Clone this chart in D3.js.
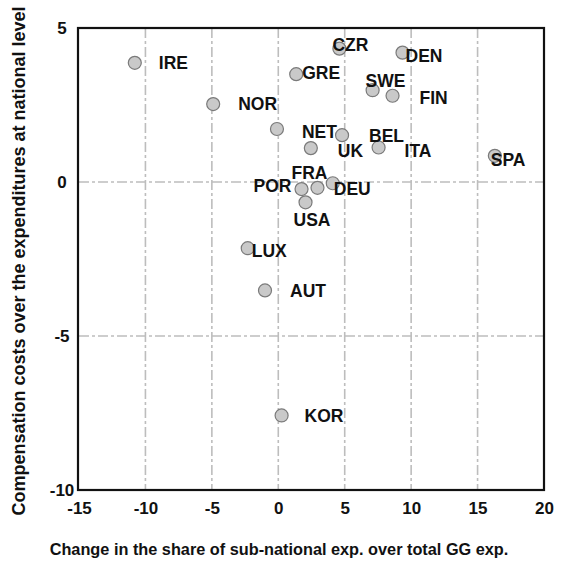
<!DOCTYPE html>
<html>
<head>
<meta charset="utf-8">
<script src="https://cdn.jsdelivr.net/npm/d3@7"></script>
<style>
  body { margin: 0; background: white; }
  text { font-family: "Liberation Sans", Arial, sans-serif; font-weight: bold; fill: #111; }
</style>
</head>
<body>
<script>
// country codes and values
const countries = ["IRE", "NOR", "NET", "GRE", "CZR", "DEN", "SWE", "FIN", "BEL", "UK",
                   "ITA", "SPA", "POR", "FRA", "DEU", "USA", "LUX", "AUT", "KOR"]
const shareChange = [-10.8, -4.9, -0.1, 1.35, 4.6, 9.35, 7.1, 8.6, 4.8, 2.45,
                     7.55, 16.3, 1.75, 2.95, 4.1, 2.05, -2.3, -1.0, 0.25]
const compCosts = [3.87, 2.53, 1.72, 3.5, 4.33, 4.2, 2.98, 2.8, 1.52, 1.1,
                   1.12, 0.85, -0.23, -0.19, -0.04, -0.66, -2.15, -3.52, -7.58]
const xTicks = [-15, -10, -5, 0, 5, 10, 15, 20]
const yTicks = [5, 0, -5, -10]
const xGrid = [-10, -5, 0, 5, 10, 15]
const yGrid = [0, -5]

// where each label sits relative to its dot (px)
const labelOffset = {
  IRE: [24, 0], NOR: [25, 0], NET: [25, 3], GRE: [6, -1], CZR: [-7, -4],
  DEN: [3, 3], SWE: [-7, -9], FIN: [27, 2], BEL: [27, 1], UK: [27, 3],
  ITA: [26, 3], SPA: [-4, 4], POR: [-48, -3], FRA: [-26, -15], DEU: [1, 6],
  USA: [-12, 18], LUX: [4, 3], AUT: [25, 0], KOR: [23, 0]
}

const w = 564, h = 562
const pLeft = 79, pRight = 544, pTop = 28, pBottom = 490

const svg = d3.select("body")
              .append("svg")
              .attr("width", w)
              .attr("height", h)

const xScale = d3.scaleLinear().domain([-15, 20]).range([pLeft, pRight])
const yScale = d3.scaleLinear().domain([-10, 5]).range([pBottom, pTop])

//? grid lines, dash-dot grey
svg.selectAll(".vgrid")
   .data(xGrid)
   .enter()
   .append("line")
   .attr("x1", d => xScale(d)).attr("x2", d => xScale(d))
   .attr("y1", pTop).attr("y2", pBottom)
   .attr("stroke", "#bdbdbd")
   .attr("stroke-width", 1.6)
   .attr("stroke-dasharray", "10,3,3,3")

svg.selectAll(".hgrid")
   .data(yGrid)
   .enter()
   .append("line")
   .attr("x1", pLeft).attr("x2", pRight)
   .attr("y1", d => yScale(d)).attr("y2", d => yScale(d))
   .attr("stroke", "#bdbdbd")
   .attr("stroke-width", 1.6)
   .attr("stroke-dasharray", "10,3,3,3")

//? axes with the library, ticks hidden, labels only (plain hyphen minus)
const xAxis = d3.axisBottom(xScale).tickValues(xTicks).tickSize(0).tickPadding(12)
                .tickFormat(d => String(d))
const gx = svg.append("g")
              .attr("transform", "translate(0," + pBottom + ")")
              .call(xAxis)
gx.select(".domain").remove()
gx.attr("font-family", null)
gx.selectAll("text").style("font-size", "17px").attr("fill", "#111")

const yAxis = d3.axisLeft(yScale).tickValues(yTicks).tickSize(0).tickPadding(0)
                .tickFormat(d => String(d))
const gy = svg.append("g")
              .attr("transform", "translate(62,0)")
              .call(yAxis)
gy.select(".domain").remove()
gy.attr("font-family", null).attr("text-anchor", "middle")
gy.selectAll("text").style("font-size", "17px").attr("fill", "#111")

// frame
svg.append("rect")
   .attr("x", pLeft - 1).attr("y", pTop)
   .attr("width", pRight - pLeft + 1).attr("height", pBottom - pTop)
   .attr("fill", "none")
   .attr("stroke", "#111")
   .attr("stroke-width", 2.2)

// dots
svg.selectAll("circle")
   .data(countries)
   .enter()
   .append("circle")
   .attr("cx", (d, i) => xScale(shareChange[i]))
   .attr("cy", (d, i) => yScale(compCosts[i]))
   .attr("r", 6.5)
   .attr("fill", "#c9c9c9")
   .attr("stroke", "#7a7a7a")
   .attr("stroke-width", 1.2)

svg.selectAll(".lab")
   .data(countries)
   .enter()
   .append("text")
   .attr("class", "lab")
   .attr("x", (d, i) => xScale(shareChange[i]) + labelOffset[d][0])
   .attr("y", (d, i) => yScale(compCosts[i]) + labelOffset[d][1])
   .attr("dy", "0.35em")
   .style("font-size", "17.5px")
   .text(d => d)

// axis titles
svg.append("text")
   .attr("x", 279)
   .attr("y", 549)
   .attr("dy", "0.35em")
   .attr("text-anchor", "middle")
   .style("font-size", "16.3px")
   .text("Change in the share of sub-national exp. over total GG exp.")

svg.append("text")
   .attr("transform", "translate(19,261) rotate(-90)")
   .attr("dy", "0.35em")
   .attr("text-anchor", "middle")
   .style("font-size", "18px")
   .text("Compensation costs over the expenditures at national level")
</script>
</body>
</html>
